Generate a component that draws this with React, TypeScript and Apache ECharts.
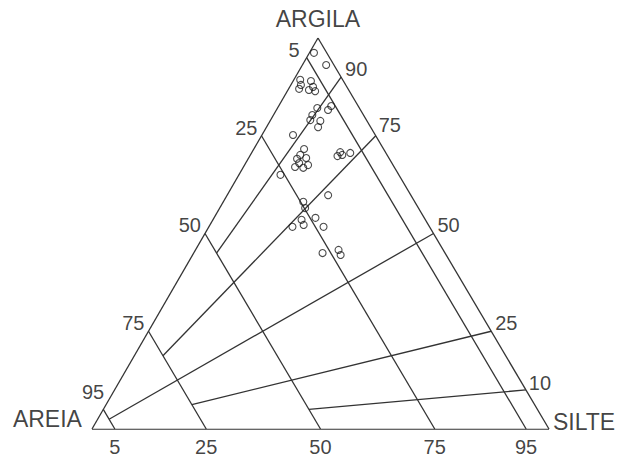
import React, { useEffect, useRef } from "react";
import * as echarts from "echarts";

// Soil texture samples (percent): argila = clay, silte = silt, areia = sand
const argila = [96.2, 93.1, 89.3, 89.0, 88.0, 87.5, 87.0, 86.7, 86.4, 82.6, 81.6, 82.1, 80.3, 79.0, 78.8, 77.2, 75.2, 71.6, 70.1, 69.1, 69.3, 68.0, 67.0, 66.8, 67.5, 65.0, 69.8, 70.8, 70.1, 70.6, 59.8, 58.1, 56.5, 51.7, 53.5, 52.2, 54.0, 51.7, 45.0, 45.8, 44.5];
const silte = [1.0, 5.2, 1.4, 3.9, 2.2, 5.1, 2.3, 4.6, 6.1, 11.5, 11.3, 8.7, 8.5, 8.7, 11.0, 11.3, 6.8, 11.0, 10.9, 10.7, 12.6, 11.7, 11.3, 13.2, 13.9, 9.1, 19.2, 19.3, 20.1, 21.6, 22.1, 17.5, 18.7, 18.3, 19.4, 20.5, 22.2, 25.1, 28.2, 31.3, 32.4];
const areia = [2.8, 1.7, 9.3, 7.1, 9.8, 7.4, 10.7, 8.7, 7.5, 5.9, 7.1, 9.2, 11.2, 12.3, 10.2, 11.5, 18.0, 17.4, 19.0, 20.2, 18.1, 20.3, 21.7, 20.0, 18.6, 25.9, 11.0, 9.9, 9.8, 7.8, 18.1, 24.4, 24.8, 30.0, 27.1, 27.3, 23.8, 23.2, 26.8, 22.9, 23.1];

// Guide lines
const sandLines = [95, 75, 50, 25, 5]; // constant sand %, left edge -> base
const ratioLines = [90, 75, 50, 25, 10]; // clay/(clay+silt) %, from right edge
const ratioLineEnds = [50, 75, 95, 75, 50]; // sand % where each ratio line stops

// Tick labels
const leftLabels = ["95", "75", "50", "25", "5"];
const rightLabels = ["90", "75", "50", "25", "10"];
const bottomLabels = ["5", "25", "50", "75", "95"];
const cornerNames = ["ARGILA", "AREIA", "SILTE"];

const CX = 0.4945; // horizontal position of apex as fraction of base

function xy(clay: number, silt: number): [number, number] {
  return [silt + clay * CX, clay];
}

const leftNudge: Record<string, [number, number]> = {
  "95": [1, -17],
  "5": [-7, -8],
};
const rightNudge: Record<string, [number, number]> = {
  "75": [3, -11],
  "10": [3, -7],
};

export default function App() {
  const ref = useRef<HTMLDivElement>(null);
  useEffect(() => {
    if (!ref.current) return;
    const chart = echarts.init(ref.current, null, { renderer: "svg" });
    const font = "Liberation Sans, Arial, sans-serif";
    const lineColor = "#333333";

    const segs: { coords: [number, number][] }[] = [];
    // outline
    segs.push({ coords: [xy(0, 0), xy(0, 100)] });
    segs.push({ coords: [xy(0, 100), xy(100, 0)] });
    segs.push({ coords: [xy(100, 0), xy(0, 0)] });
    sandLines.forEach((s) => {
      segs.push({ coords: [xy(100 - s, 0), xy(0, 100 - s)] });
    });
    ratioLines.forEach((r, i) => {
      const e = ratioLineEnds[i];
      const f = (100 - e) / 100;
      segs.push({ coords: [xy(r, 100 - r), xy(r * f, (100 - r) * f)] });
    });

    const pts = argila.map((c, i) => xy(c, silte[i]));

    const leftData = leftLabels.map((t, i) => {
      const s = sandLines[i];
      const n = leftNudge[t] || [-4, -8];
      return {
        value: xy(100 - s, 0),
        label: { formatter: t, position: n, align: "right", verticalAlign: "middle" },
      };
    });
    const rightData = rightLabels.map((t, i) => {
      const r = ratioLines[i];
      const n = rightNudge[t] || [4, -8];
      return {
        value: xy(r, 100 - r),
        label: { formatter: t, position: n, align: "left", verticalAlign: "middle" },
      };
    });
    const bottomData = bottomLabels.map((t) => {
      const s = Number(t);
      return {
        value: xy(0, s),
        label: { formatter: t, position: [0, 18], align: "center", verticalAlign: "middle" },
      };
    });
    const cornerData = [
      { value: xy(100, 0), label: { formatter: cornerNames[0], position: [0, -19], align: "center", verticalAlign: "middle" } },
      { value: xy(0, 0), label: { formatter: cornerNames[1], position: [-10, -10], align: "right", verticalAlign: "middle" } },
      { value: xy(0, 100), label: { formatter: cornerNames[2], position: [4, -7], align: "left", verticalAlign: "middle" } },
    ];

    const labelSeries = (data: any[], size: number) => ({
      type: "scatter",
      symbolSize: 0.1,
      itemStyle: { color: "rgba(0,0,0,0)" },
      silent: true,
      z: 5,
      label: { show: true, color: "#111111", fontSize: size, fontFamily: font },
      data,
    });

    chart.setOption({
      animation: false,
      backgroundColor: "#ffffff",
      grid: { left: 92, top: 38, width: 457, height: 391 },
      xAxis: { type: "value", min: 0, max: 100, show: false },
      yAxis: { type: "value", min: 0, max: 100, show: false },
      series: [
        {
          type: "lines",
          coordinateSystem: "cartesian2d",
          silent: true,
          lineStyle: { color: lineColor, width: 1.3, opacity: 1 },
          data: segs,
        },
        {
          type: "scatter",
          symbol: "circle",
          symbolSize: 7,
          itemStyle: { color: "rgba(255,255,255,0)", borderColor: "#1e1e1e", borderWidth: 1.1 },
          z: 4,
          data: pts,
        },
        labelSeries(leftData, 20),
        labelSeries(rightData, 20),
        labelSeries(bottomData, 20),
        labelSeries(cornerData, 23),
      ],
    });
    return () => chart.dispose();
  }, []);
  return (
    <div
      ref={ref}
      style={{ position: "absolute", left: 0, top: 0, width: 620, height: 459 }}
    />
  );
}
